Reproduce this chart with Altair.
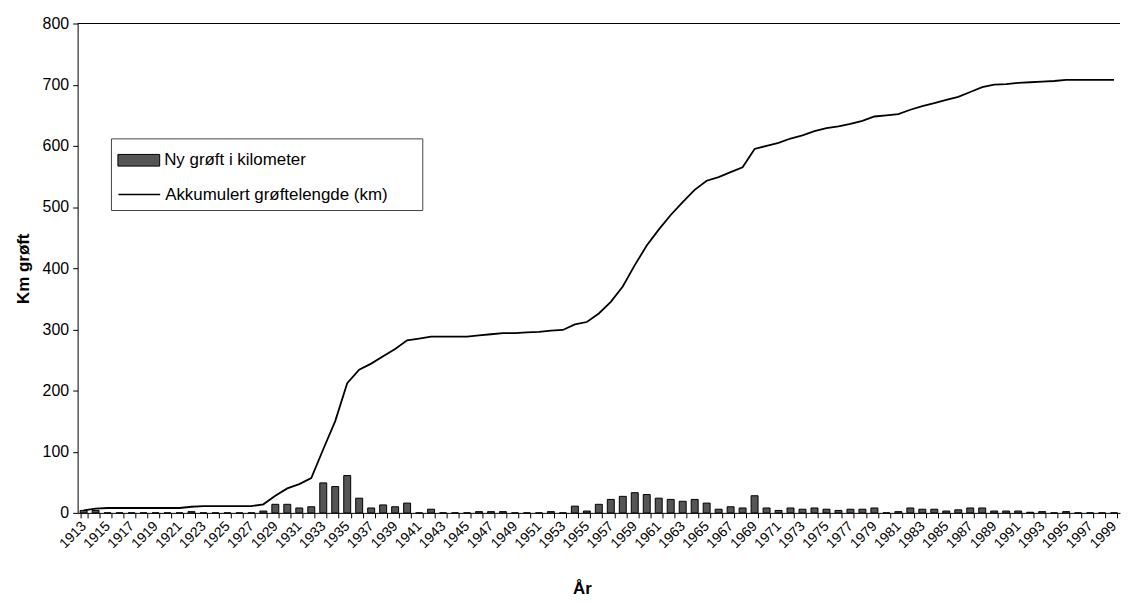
import altair as alt
import pandas as pd

years = list(range(1913, 2000))

ny_groft = [
    4, 4, 0, 0, 0, 0, 0,                      # 1913-1919
    0, 0, 2, 0, 0, 0, 0, 0, 3, 14,            # 1920-1929
    14, 8, 10, 49, 43, 61, 24, 8, 13, 10,     # 1930-1939
    16, 0, 6, 0, 0, 0, 2, 2, 2, 0,            # 1940-1949
    0, 0, 2, 0, 11, 3, 14, 22, 27, 33,        # 1950-1959
    30, 24, 22, 19, 22, 16, 6, 10, 8, 28,     # 1960-1969
    8, 4, 8, 6, 8, 6, 4, 6, 6, 8,             # 1970-1979
    0, 2, 8, 6, 6, 3, 5, 8, 8, 3,             # 1980-1989
    3, 3, 1, 2, 0, 2, 0, 0, 0, 0,             # 1990-1999
]

akkumulert = [
    4, 7, 8, 8, 8, 8, 8,
    8, 8, 10, 11, 11, 11, 11, 11, 14, 28,
    40, 47, 57, 104, 150, 212, 234, 244, 256, 268,
    282, 285, 288, 288, 288, 288, 290, 292, 294, 294,
    295, 296, 298, 299, 308, 312, 326, 345, 370, 405,
    437, 463, 487, 508, 528, 543, 549, 557, 565, 595,
    600, 605, 612, 617, 624, 629, 632, 636, 641, 648,
    650, 652, 659, 665, 670, 675, 680, 688, 696, 700,
    701, 703, 704, 705, 706, 708, 708, 708, 708, 708,
]

y_ticks = [0, 100, 200, 300, 400, 500, 600, 700, 800]

LBL_BAR = "Ny grøft i kilometer"
LBL_LINE = "Akkumulert grøftelengde (km)"

df = pd.DataFrame({
    "year": years,
    "ny": ny_groft,
    "akk": akkumulert,
    "s_bar": LBL_BAR,
    "s_line": LBL_LINE,
})

FONT = "Liberation Sans"

x_enc = alt.X(
    "year:O",
    scale=alt.Scale(paddingInner=0.42, paddingOuter=0.21),
    axis=alt.Axis(
        title="År",
        labelExpr="datum.value % 2 == 1 ? datum.label : ''",
        labelAngle=-45,
        labelAlign="right",
        labelBaseline="middle",
        labelPadding=6,
        labelOverlap=False,
        labelFontSize=14,
        labelFont=FONT,
        labelColor="black",
        tickBand="extent",
        tickSize=5,
        tickColor="black",
        domainColor="black",
        titleFont=FONT,
        titleFontWeight="bold",
        titleFontSize=17,
        titleColor="black",
        titleX=507,
        titleY=76,
        titleAlign="center",
        titleBaseline="middle",
    ),
)

y_scale = alt.Scale(domain=[0, 800], nice=False)
y_axis = alt.Axis(
    values=y_ticks,
    title="Km grøft",
    grid=False,
    labelFontSize=16,
    labelFont=FONT,
    labelColor="black",
    labelPadding=4,
    tickSize=5,
    tickColor="black",
    domainColor="black",
    titleFont=FONT,
    titleFontWeight="bold",
    titleFontSize=17,
    titleColor="black",
    titleX=-54,
    titleY=246,
    titleAlign="center",
    titleBaseline="middle",
)

frame = alt.Chart(pd.DataFrame({"k": [0]})).mark_rect(
    fill="white", stroke="#444444", strokeWidth=1
).encode(
    x=alt.value(34), x2=alt.value(347), y=alt.value(116), y2=alt.value(188)
)

bars = alt.Chart(df).mark_bar(stroke="black", strokeWidth=1).encode(
    x=x_enc,
    y=alt.Y("ny:Q", scale=y_scale, axis=y_axis),
    fill=alt.Fill(
        "s_bar:N",
        scale=alt.Scale(domain=[LBL_BAR], range=["#555555"]),
        legend=alt.Legend(
            title=None,
            orient="none",
            legendX=40,
            legendY=116,
            padding=0,
            symbolType="M-1,-0.28H1V0.28H-1Z",
            symbolSize=1764,
            symbolStrokeColor="black",
            symbolStrokeWidth=1,
            labelFontSize=17,
            labelFont=FONT,
            labelColor="black",
            labelOffset=4,
            labelLimit=0,
        ),
    ),
)

line = alt.Chart(df).mark_line(strokeWidth=1.8).encode(
    x=alt.X("year:O"),
    y=alt.Y("akk:Q", scale=y_scale, axis=y_axis),
    stroke=alt.Stroke(
        "s_line:N",
        scale=alt.Scale(domain=[LBL_LINE], range=["black"]),
        legend=alt.Legend(
            title=None,
            orient="none",
            legendX=40,
            legendY=150,
            padding=0,
            symbolType="stroke",
            symbolSize=1764,
            symbolStrokeWidth=1.5,
            labelFontSize=17,
            labelFont=FONT,
            labelColor="black",
            labelOffset=4,
            labelLimit=0,
        ),
    ),
)

top = alt.Chart(pd.DataFrame({"top": [800]})).mark_rule(color="black", strokeWidth=1).encode(
    y=alt.Y("top:Q", scale=y_scale, axis=y_axis)
)

chart = alt.layer(frame, bars, line, top).properties(
    width=1048,
    height=492,
    padding={"left": 70, "top": 14, "right": 2, "bottom": 86},
    autosize=alt.AutoSizeParams(type="none"),
    background="white",
).configure_view(stroke=None)

chart.save("out.html", embed_options={"renderer": "svg", "actions": False})
